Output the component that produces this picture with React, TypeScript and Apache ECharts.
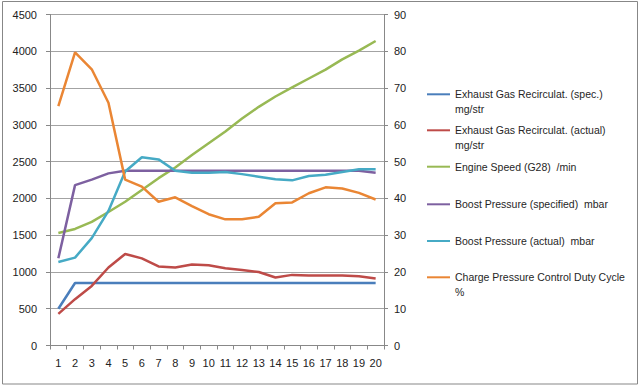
import React, { useEffect, useRef } from "react";
import * as echarts from "echarts";

const categories = ["1","2","3","4","5","6","7","8","9","10","11","12","13","14","15","16","17","18","19","20"];
const leftTicks = { min: 0, max: 4500, interval: 500 };
const rightTicks = { min: 0, max: 90, interval: 10 };

const egrSpec = [500, 850, 850, 850, 850, 850, 850, 850, 850, 850, 850, 850, 850, 850, 850, 850, 850, 850, 850, 850];
const egrActual = [430, 630, 810, 1060, 1245, 1185, 1075, 1060, 1100, 1090, 1050, 1025, 1000, 925, 960, 950, 950, 950, 940, 910];
const engineSpeed = [1530, 1585, 1680, 1815, 1955, 2115, 2275, 2420, 2590, 2750, 2910, 3085, 3245, 3385, 3510, 3630, 3750, 3890, 4010, 4140];
const boostSpec = [1185, 2180, 2255, 2340, 2375, 2375, 2375, 2375, 2375, 2375, 2375, 2375, 2375, 2375, 2375, 2375, 2375, 2375, 2375, 2350];
const boostActual = [1135, 1195, 1460, 1830, 2365, 2560, 2530, 2375, 2350, 2350, 2360, 2330, 2295, 2260, 2245, 2305, 2320, 2360, 2395, 2395];
const dutyCycle = [65.1, 79.7, 75.1, 66, 45.1, 43.2, 39.1, 40.3, 37.9, 35.7, 34.3, 34.3, 35, 38.7, 38.9, 41.4, 43, 42.7, 41.5, 39.7];

const seriesNames = [
  "Exhaust Gas Recirculat. (spec.) mg/str",
  "Exhaust Gas Recirculat. (actual) mg/str",
  "Engine Speed (G28)  /min",
  "Boost Pressure (specified)  mbar",
  "Boost Pressure (actual)  mbar",
  "Charge Pressure Control Duty Cycle %",
];
const legendLines: string[][] = [
  ["Exhaust Gas Recirculat. (spec.)", "mg/str"],
  ["Exhaust Gas Recirculat. (actual)", "mg/str"],
  ["Engine Speed (G28)  /min"],
  ["Boost Pressure (specified)  mbar"],
  ["Boost Pressure (actual)  mbar"],
  ["Charge Pressure Control Duty Cycle", "%"],
];
const colors = ["#4A7EBB", "#BE4B48", "#98B954", "#7D60A0", "#46AAC5", "#EA8634"];

export default function App() {
  const ref = useRef<HTMLDivElement>(null);
  useEffect(() => {
    document.body.style.margin = "0";
    if (!ref.current) return;
    const chart = echarts.init(ref.current, null, { renderer: "svg" });
    const font = "'Liberation Sans', Arial, sans-serif";
    const LH = 14.7;
    const firstLineY = [94.3, 130.3, 166.7, 204.3, 241, 277.3];
    const datas = [egrSpec, egrActual, engineSpeed, boostSpec, boostActual, dutyCycle];
    const legends = seriesNames.map((name, i) => {
      const lines = legendLines[i];
      const multi = lines.length > 1;
      const text = multi ? " \n" + lines.join("\n") : lines[0];
      const top = multi ? firstLineY[i] - 1.5 * LH : firstLineY[i] - 0.5 * LH;
      return {
        data: [name],
        left: 427,
        top,
        orient: "vertical",
        padding: 0,
        icon: "rect",
        itemWidth: 23,
        itemHeight: 2,
        itemGap: 0,
        selectedMode: false,
        formatter: () => text,
        textStyle: { fontFamily: font, fontSize: 10.5, color: "#262626", lineHeight: LH },
      };
    });
    chart.setOption({
      animation: false,
      backgroundColor: "#ffffff",
      textStyle: { fontFamily: font },
      grid: { left: 50, right: 256, top: 14.5, bottom: 41.5 },
      legend: legends,
      graphic: [
        {
          type: "rect",
          shape: { x: 2.5, y: 1.5, width: 635, height: 382.5 },
          style: { fill: "none", stroke: "#878787", lineWidth: 1 },
          silent: true,
        },
      ],
      xAxis: {
        type: "category",
        data: categories,
        boundaryGap: true,
        axisLine: { lineStyle: { color: "#888888", width: 1 } },
        axisTick: { show: true, length: 4, lineStyle: { color: "#888888" } },
        axisLabel: { color: "#222", fontSize: 11, fontFamily: font, margin: 12 },
        splitLine: { show: false },
      },
      yAxis: [
        {
          type: "value",
          position: "left",
          min: leftTicks.min,
          max: leftTicks.max,
          interval: leftTicks.interval,
          axisLine: { show: true, lineStyle: { color: "#888888", width: 1 } },
          axisTick: { show: true, length: 4, lineStyle: { color: "#888888" } },
          axisLabel: { color: "#222", fontSize: 11, fontFamily: font, margin: 13, formatter: (v: number) => String(v) },
          splitLine: { show: true, lineStyle: { color: "#A3A3A3", width: 1 } },
        },
        {
          type: "value",
          position: "right",
          min: rightTicks.min,
          max: rightTicks.max,
          interval: rightTicks.interval,
          axisLine: { show: true, lineStyle: { color: "#888888", width: 1 } },
          axisTick: { show: true, length: 4, lineStyle: { color: "#888888" } },
          axisLabel: { color: "#222", fontSize: 11, fontFamily: font, margin: 10, formatter: (v: number) => String(v) },
          splitLine: { show: false },
        },
      ],
      series: seriesNames.map((name, i) => ({
        name,
        type: "line",
        yAxisIndex: i === 5 ? 1 : 0,
        data: datas[i],
        showSymbol: false,
        symbol: "none",
        smooth: false,
        color: colors[i],
        itemStyle: { color: colors[i] },
        lineStyle: { color: colors[i], width: 2.5 },
      })),
    });
    return () => chart.dispose();
  }, []);
  return <div ref={ref} style={{ position: "absolute", left: 0, top: 0, width: 640, height: 387 }} />;
}
